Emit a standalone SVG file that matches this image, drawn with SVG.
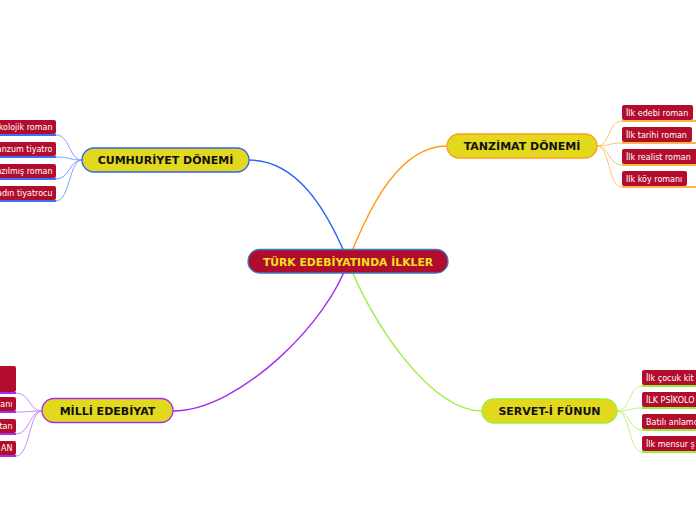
<svg xmlns="http://www.w3.org/2000/svg" width="696" height="520" viewBox="0 0 696 520">
<style>
.main{fill:#e2d81e;stroke-width:1.3}
.mt{font-family:"DejaVu Sans",Verdana,sans-serif;font-weight:bold;font-size:11px;fill:#111;text-anchor:middle}
.leaf{fill:#b30d2d}
.lt{font-family:"DejaVu Sans",Verdana,sans-serif;font-size:8px;fill:#fff}
.c{fill:none}
</style>
<rect width="696" height="520" fill="#fff"/>
<g id="connectors">
  <path class="c" d="M348,261 C 325,205 295,160 249,160" stroke="#2f63f5" stroke-width="1.4"/>
  <path class="c" d="M348,261 C 370,205 400,146 447,146" stroke="#ff9d1a" stroke-width="1.4"/>
  <path class="c" d="M348,261 C 330,320 240,411 173,411" stroke="#a22cf0" stroke-width="1.4"/>
  <path class="c" d="M348,261 C 370,320 430,411 482,411" stroke="#99f03a" stroke-width="1.4"/>
  <g stroke="#ffc46e" stroke-width="1">
    <path class="c" d="M597,146 C 610,146 608,121 622,121"/>
    <path class="c" d="M597,146 C 610,146 608,143 622,143"/>
    <path class="c" d="M597,146 C 610,146 608,165 622,165"/>
    <path class="c" d="M597,146 C 610,146 608,187 622,187"/>
  </g>
  <g stroke="#7ea2ff" stroke-width="1">
    <path class="c" d="M82,160 C 69,160 70,135 56,135"/>
    <path class="c" d="M82,160 C 69,160 70,157 56,157"/>
    <path class="c" d="M82,160 C 69,160 70,179 56,179"/>
    <path class="c" d="M82,160 C 69,160 70,201 56,201"/>
  </g>
  <g stroke="#c98af7" stroke-width="1">
    <path class="c" d="M42,411 C 29,411 30,393 16,393"/>
    <path class="c" d="M42,411 C 29,411 30,412 16,412"/>
    <path class="c" d="M42,411 C 29,411 30,434 16,434"/>
    <path class="c" d="M42,411 C 29,411 30,456 16,456"/>
  </g>
  <g stroke="#bff57a" stroke-width="1">
    <path class="c" d="M617,411 C 630,411 629,386 642,386"/>
    <path class="c" d="M617,411 C 630,411 629,408 642,408"/>
    <path class="c" d="M617,411 C 630,411 629,430 642,430"/>
    <path class="c" d="M617,411 C 630,411 629,452 642,452"/>
  </g>
</g>
<g id="center">
  <rect x="248" y="249.5" width="200" height="23.5" rx="11.5" fill="#b00c2c" stroke="#3f78c0" stroke-width="1.3"/>
  <text x="348" y="265.5" font-family="DejaVu Sans,Verdana,sans-serif" font-weight="bold" font-size="10.8" fill="#f5e21e" text-anchor="middle">TÜRK EDEBİYATINDA İLKLER</text>
</g>
<g id="tanzimat">
  <rect class="main" x="447" y="134" width="150" height="24" rx="12" stroke="#ff9d1a"/>
  <text class="mt" x="522" y="150">TANZİMAT DÖNEMİ</text>
</g>
<g id="cumhuriyet">
  <rect class="main" x="82" y="148" width="167" height="24" rx="12" stroke="#2f63f5"/>
  <text class="mt" x="165.5" y="164">CUMHURİYET DÖNEMİ</text>
</g>
<g id="milli">
  <rect class="main" x="42" y="398.5" width="131" height="24" rx="12" stroke="#a22cf0"/>
  <text class="mt" x="107.5" y="414.5">MİLLİ EDEBİYAT</text>
</g>
<g id="servet">
  <rect class="main" x="482" y="399" width="135" height="24" rx="12" stroke="#99f03a"/>
  <text class="mt" x="549.5" y="415">SERVET-İ FÜNUN</text>
</g>
<g id="tanzimat-leaves">
  <g id="t1"><rect class="leaf" x="622" y="105" width="71" height="15" rx="2"/><line x1="622" y1="121" x2="700" y2="121" stroke="#ffb44a" stroke-width="2"/><text class="lt" x="626" y="115.5">İlk edebi roman</text></g>
  <g id="t2"><rect class="leaf" x="622" y="127" width="70" height="15" rx="2"/><line x1="622" y1="143" x2="700" y2="143" stroke="#ffb44a" stroke-width="2"/><text class="lt" x="626" y="137.5">İlk tarihi roman</text></g>
  <g id="t3"><rect class="leaf" x="622" y="149" width="76" height="15" rx="2"/><line x1="622" y1="165" x2="700" y2="165" stroke="#ffb44a" stroke-width="2"/><text class="lt" x="626" y="159.5">İlk realist roman</text></g>
  <g id="t4"><rect class="leaf" x="622" y="171" width="65" height="15" rx="2"/><line x1="622" y1="187" x2="700" y2="187" stroke="#ffb44a" stroke-width="2"/><text class="lt" x="626" y="181.5">Ilk köy romanı</text></g>
</g>
<g id="cumhuriyet-leaves">
  <g id="c1"><rect class="leaf" x="-20" y="120" width="76" height="14" rx="2"/><line x1="-5" y1="135" x2="56" y2="135" stroke="#3b6ff5" stroke-width="2"/><text class="lt" x="52.5" y="130" text-anchor="end">kolojik roman</text></g>
  <g id="c2"><rect class="leaf" x="-20" y="142" width="76" height="14" rx="2"/><line x1="-5" y1="157" x2="56" y2="157" stroke="#3b6ff5" stroke-width="2"/><text class="lt" x="52.5" y="152" text-anchor="end">anzum tiyatro</text></g>
  <g id="c3"><rect class="leaf" x="-20" y="164" width="76" height="14" rx="2"/><line x1="-5" y1="179" x2="56" y2="179" stroke="#3b6ff5" stroke-width="2"/><text class="lt" x="52.5" y="174" text-anchor="end">azılmış roman</text></g>
  <g id="c4"><rect class="leaf" x="-20" y="186" width="76" height="14" rx="2"/><line x1="-5" y1="201" x2="56" y2="201" stroke="#3b6ff5" stroke-width="2"/><text class="lt" x="52.5" y="196" text-anchor="end">kadın tiyatrocu</text></g>
</g>
<g id="milli-leaves">
  <g id="m1"><rect class="leaf" x="-20" y="366" width="36" height="26" rx="2"/><line x1="-5" y1="393" x2="16" y2="393" stroke="#a22cf0" stroke-width="2"/></g>
  <g id="m2"><rect class="leaf" x="-20" y="397" width="36" height="14" rx="2"/><line x1="-5" y1="412" x2="16" y2="412" stroke="#a22cf0" stroke-width="2"/><text class="lt" x="12.5" y="407" text-anchor="end">anı</text></g>
  <g id="m3"><rect class="leaf" x="-20" y="419" width="36" height="14" rx="2"/><line x1="-5" y1="434" x2="16" y2="434" stroke="#a22cf0" stroke-width="2"/><text class="lt" x="12.5" y="429" text-anchor="end">tan</text></g>
  <g id="m4"><rect class="leaf" x="-20" y="441" width="36" height="14" rx="2"/><line x1="-5" y1="456" x2="16" y2="456" stroke="#a22cf0" stroke-width="2"/><text class="lt" x="12.5" y="451" text-anchor="end">AN</text></g>
</g>
<g id="servet-leaves">
  <g id="s1"><rect class="leaf" x="642" y="370" width="70" height="15" rx="2"/><line x1="642" y1="386" x2="700" y2="386" stroke="#99f03a" stroke-width="2"/><text class="lt" x="646" y="380.5">İlk çocuk kit</text></g>
  <g id="s2"><rect class="leaf" x="642" y="392" width="70" height="15" rx="2"/><line x1="642" y1="408" x2="700" y2="408" stroke="#99f03a" stroke-width="2"/><text class="lt" x="646" y="402.5">İLK PSİKOLO</text></g>
  <g id="s3"><rect class="leaf" x="642" y="414" width="70" height="15" rx="2"/><line x1="642" y1="430" x2="700" y2="430" stroke="#99f03a" stroke-width="2"/><text class="lt" x="646" y="424.5">Batılı anlamd</text></g>
  <g id="s4"><rect class="leaf" x="642" y="436" width="70" height="15" rx="2"/><line x1="642" y1="452" x2="700" y2="452" stroke="#99f03a" stroke-width="2"/><text class="lt" x="646" y="446.5">İlk mensur ş</text></g>
</g>
</svg>
